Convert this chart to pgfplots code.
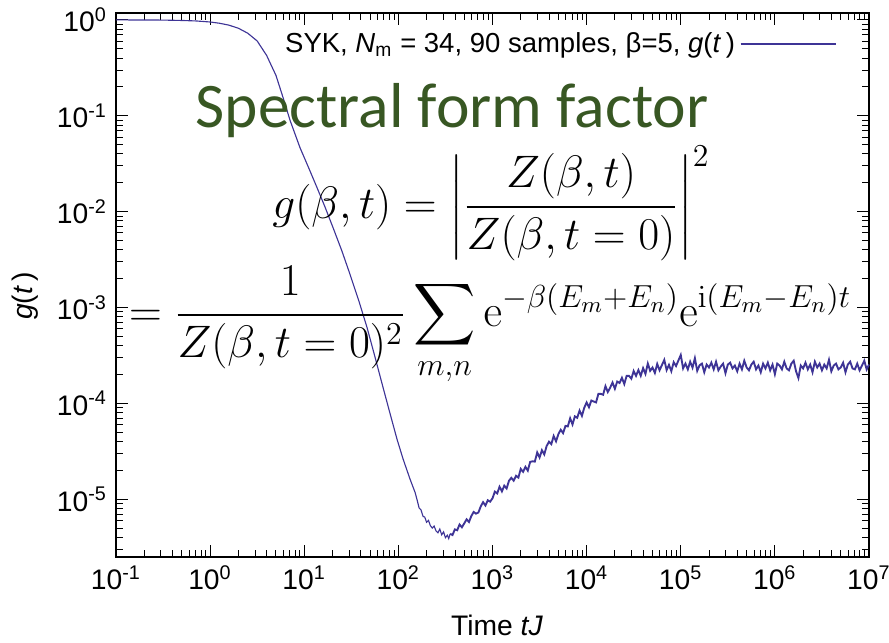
\RequirePackage{fix-cm}
\documentclass[border=0pt]{standalone}
\usepackage[no-math]{fontspec}
\setmainfont{Liberation Sans}
\newfontfamily\calibri{Carlito}
\usepackage{amsmath}
\usepackage{pgfplots}
\usepackage{pgfplotstable}
\pgfplotsset{compat=1.18}
\definecolor{sfline}{RGB}{62,52,150}
\definecolor{sfgreen}{RGB}{56,87,35}

% log10(tJ)  log10(g), smooth early part
\pgfplotstableread{
lt lg
-1.000 -0.000
-0.700 -0.001
-0.500 -0.002
-0.300 -0.006
-0.150 -0.011
0.000 -0.022
0.100 -0.035
0.200 -0.055
0.300 -0.087
0.400 -0.139
0.500 -0.220
0.600 -0.370
0.700 -0.580
0.775 -0.810
0.850 -1.050
0.955 -1.333
1.050 -1.550
1.136 -1.750
1.220 -1.950
1.306 -2.167
1.400 -2.410
1.487 -2.656
1.580 -2.930
1.667 -3.208
1.750 -3.510
1.837 -3.833
1.910 -4.100
1.986 -4.375
2.050 -4.580
2.124 -4.790
2.178 -4.930
2.200 -5.010
2.220 -5.090
2.240 -5.110
2.263 -5.180
2.280 -5.185
2.300 -5.240
2.320 -5.220
2.340 -5.275
2.360 -5.300
2.380 -5.280
2.400 -5.330
2.420 -5.350
2.440 -5.310
2.460 -5.370
2.480 -5.340
2.500 -5.400
2.520 -5.375
2.535 -5.410
2.550 -5.360
}\early

% noisy ramp and plateau
\pgfplotstableread{
lt lg
2.550 -5.360
2.575 -5.373
2.600 -5.314
2.625 -5.323
2.650 -5.263
2.675 -5.292
2.700 -5.251
2.725 -5.209
2.750 -5.237
2.775 -5.175
2.800 -5.132
2.825 -5.150
2.850 -5.138
2.875 -5.075
2.900 -5.030
2.925 -5.065
2.950 -5.010
2.975 -5.025
3.000 -4.990
3.025 -4.920
3.050 -4.939
3.075 -4.869
3.100 -4.918
3.125 -4.858
3.150 -4.887
3.175 -4.807
3.200 -4.776
3.225 -4.806
3.250 -4.755
3.275 -4.774
3.300 -4.683
3.325 -4.713
3.350 -4.662
3.375 -4.701
3.400 -4.610
3.425 -4.604
3.450 -4.607
3.475 -4.511
3.500 -4.564
3.525 -4.488
3.550 -4.532
3.575 -4.445
3.600 -4.400
3.625 -4.425
3.650 -4.340
3.675 -4.395
3.700 -4.320
3.725 -4.275
3.750 -4.310
3.775 -4.235
3.800 -4.240
3.825 -4.155
3.850 -4.220
3.875 -4.135
3.900 -4.150
3.925 -4.075
3.950 -4.130
3.975 -4.045
4.000 -3.990
4.025 -4.040
4.050 -3.970
4.075 -3.980
4.100 -3.990
4.125 -3.900
4.150 -3.900
4.175 -3.910
4.200 -3.820
4.225 -3.881
4.250 -3.836
4.275 -3.782
4.300 -3.847
4.325 -3.772
4.350 -3.787
4.375 -3.733
4.400 -3.798
4.425 -3.713
4.450 -3.712
4.475 -3.742
4.500 -3.662
4.525 -3.712
4.550 -3.652
4.575 -3.712
4.600 -3.632
4.625 -3.692
4.650 -3.584
4.675 -3.660
4.700 -3.626
4.725 -3.682
4.750 -3.588
4.775 -3.654
4.800 -3.600
4.825 -3.546
4.850 -3.652
4.875 -3.598
4.900 -3.664
4.925 -3.570
4.950 -3.610
4.975 -3.552
5.000 -3.495
5.025 -3.635
5.050 -3.585
5.075 -3.645
5.100 -3.565
5.125 -3.627
5.150 -3.528
5.175 -3.660
5.200 -3.602
5.225 -3.585
5.250 -3.675
5.275 -3.595
5.300 -3.625
5.325 -3.575
5.350 -3.645
5.375 -3.565
5.400 -3.655
5.425 -3.615
5.450 -3.585
5.475 -3.685
5.500 -3.595
5.525 -3.575
5.550 -3.635
5.575 -3.605
5.600 -3.665
5.625 -3.585
5.650 -3.645
5.675 -3.555
5.700 -3.625
5.725 -3.655
5.750 -3.595
5.775 -3.565
5.800 -3.645
5.825 -3.605
5.850 -3.675
5.875 -3.585
5.900 -3.635
5.925 -3.575
5.950 -3.655
5.975 -3.595
6.000 -3.695
6.025 -3.585
6.050 -3.605
6.075 -3.645
6.100 -3.565
6.125 -3.635
6.150 -3.655
6.175 -3.585
6.200 -3.555
6.225 -3.665
6.250 -3.735
6.275 -3.605
6.300 -3.635
6.325 -3.575
6.350 -3.645
6.375 -3.595
6.400 -3.675
6.425 -3.565
6.450 -3.625
6.475 -3.585
6.500 -3.655
6.525 -3.595
6.550 -3.635
6.575 -3.545
6.600 -3.665
6.625 -3.605
6.650 -3.585
6.675 -3.645
6.700 -3.625
6.725 -3.575
6.750 -3.675
6.775 -3.595
6.800 -3.565
6.825 -3.635
6.850 -3.645
6.875 -3.585
6.900 -3.655
6.925 -3.605
6.950 -3.555
6.975 -3.645
7.000 -3.595
}\late

\begin{document}
\begin{tikzpicture}
\begin{axis}[
  scale only axis, width=301.2pt, height=217.6pt,
  xmode=log, ymode=log, log basis x=10, log basis y=10,
  xmin=0.1, xmax=1e7, ymin=2.5e-6, ymax=1.18,
  xtick={1e-1,1e0,1e1,1e2,1e3,1e4,1e5,1e6,1e7},
  xticklabels={10\textsuperscript{-1},10\textsuperscript{0},10\textsuperscript{1},10\textsuperscript{2},10\textsuperscript{3},10\textsuperscript{4},10\textsuperscript{5},10\textsuperscript{6},10\textsuperscript{7}},
  minor xtick={0.2,0.3,0.4,0.5,0.6,0.7,0.8,0.9,
    2,3,4,5,6,7,8,9,20,30,40,50,60,70,80,90,
    200,300,400,500,600,700,800,900,
    2e3,3e3,4e3,5e3,6e3,7e3,8e3,9e3,
    2e4,3e4,4e4,5e4,6e4,7e4,8e4,9e4,
    2e5,3e5,4e5,5e5,6e5,7e5,8e5,9e5,
    2e6,3e6,4e6,5e6,6e6,7e6,8e6,9e6},
  ytick={1e-5,1e-4,1e-3,1e-2,1e-1,1e0},
  yticklabels={10\textsuperscript{-5},10\textsuperscript{-4},10\textsuperscript{-3},10\textsuperscript{-2},10\textsuperscript{-1},10\textsuperscript{0}},
  minor ytick={3e-6,4e-6,5e-6,6e-6,7e-6,8e-6,9e-6,
    2e-5,3e-5,4e-5,5e-5,6e-5,7e-5,8e-5,9e-5,
    2e-4,3e-4,4e-4,5e-4,6e-4,7e-4,8e-4,9e-4,
    2e-3,3e-3,4e-3,5e-3,6e-3,7e-3,8e-3,9e-3,
    2e-2,3e-2,4e-2,5e-2,6e-2,7e-2,8e-2,9e-2,
    0.2,0.3,0.4,0.5,0.6,0.7,0.8,0.9},
  tick align=inside,
  major tick length=5pt, minor tick length=2.7pt,
  tick style={black, line width=0.4pt},
  axis line style={line width=1.1pt},
  tick label style={font=\fontsize{11.3}{13}\selectfont},
  xlabel={Time \textit{tJ}},
  ylabel={\textit{g}(\textit{t}\,)},
  label style={font=\fontsize{11.3}{13}\selectfont},
  xlabel style={at={(axis description cs:0.506,-0.125)}, anchor=center},
  ylabel style={at={(axis description cs:-0.120,0.48)}, anchor=center},
  legend style={draw=none, fill=none, at={(axis description cs:0.957,0.943)}, anchor=east,
    font=\fontsize{11}{13}\selectfont, inner sep=0pt},
  legend plot pos=right,
  legend cell align=right,
  legend image code/.code={\path (0pt,0pt) -- (5pt,0pt); \draw[#1] (5pt,0pt) -- (38pt,0pt);},
  clip=false,
]
\addplot[sfline, line width=0.45pt] table[x expr={10^(\thisrow{lt})}, y expr={10^(\thisrow{lg})}] {\early};
\addlegendentry{SYK, \textit{N}\textsubscript{m} = 34, 90 samples, β=5, \textit{g}(\textit{t}\,)}
\addplot[sfline, line width=0.75pt, forget plot] table[x expr={10^(\thisrow{lt})}, y expr={10^(\thisrow{lg})}] {\late};
\node[anchor=base west, inner sep=0pt, text=sfgreen, font=\calibri\fontsize{25.4}{30}\selectfont]
  at (rel axis cs:0.105,0.790) {Spectral form factor};
\node[anchor=base, inner sep=0pt, font=\fontsize{18.2}{22}\selectfont] at (rel axis cs:0.498,0.622)
  {$\displaystyle g(\beta,t)=\left|\frac{Z(\beta,t)}{Z(\beta,t=0)}\right|^2$};
\node[anchor=base, inner sep=0pt, font=\fontsize{18.2}{22}\selectfont] at (rel axis cs:0.497,0.424)
  {$\displaystyle =\frac{1}{Z(\beta,t=0)^2}\sum_{m,n}\mathrm{e}^{-\beta(E_m+E_n)}\mathrm{e}^{\mathrm{i}(E_m-E_n)t}$};
\end{axis}
\pgfresetboundingbox
\path ([xshift=-46.4pt,yshift=-34pt]current axis.south west) rectangle ([xshift=8pt,yshift=5.2pt]current axis.north east);
\end{tikzpicture}
\end{document}
